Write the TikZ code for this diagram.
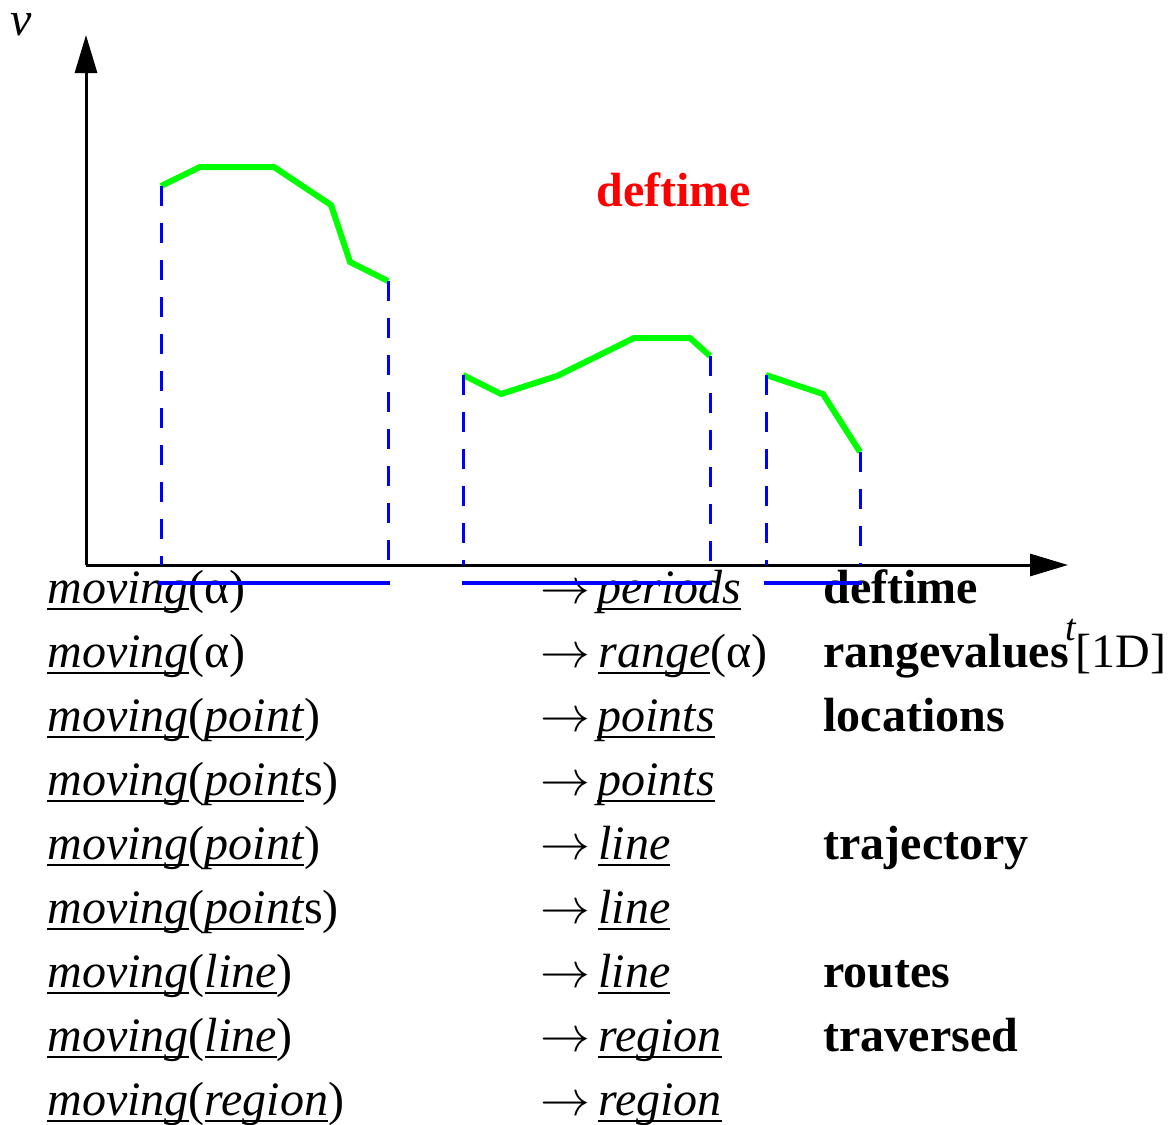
\documentclass[tikz,border=0pt]{standalone}
\usepackage{fontspec}
\setmainfont{Liberation Serif}
\usetikzlibrary{arrows.meta}
% underline at a fixed depth, running through descenders
\newcommand\undl[1]{\setbox0\hbox{#1}\rlap{\rule[-3.6pt]{\wd0}{1.1pt}}\box0}
\newcommand\mvg{\undl{\textit{moving}}}
\newcommand\ui[1]{\undl{\textit{#1}}}
\begin{document}
\begin{tikzpicture}[x=0.5pt,y=-0.5pt,
  txt/.style={anchor=base west,inner sep=0pt,font=\fontsize{24}{28}\selectfont},
  lbl/.style={txt,font=\fontsize{24}{28}\selectfont\bfseries},
  axis/.style={line width=1.5pt,-{Triangle[length=19pt,width=11pt]}},
  curve/.style={draw={rgb,255:red,0;green,255;blue,0},line width=3pt,line join=miter},
  drop/.style={draw={rgb,255:red,0;green,0;blue,255},line width=1.5pt,dash pattern=on 10pt off 8.5pt},
  span/.style={draw={rgb,255:red,0;green,0;blue,255},line width=2.4pt}]
\useasboundingbox (0,0) rectangle (1176,1124);

% axes
\coordinate (O) at (86,565);
\coordinate (ytop) at (86,35);
\coordinate (xend) at (1068,565);
\draw[axis] (O) -- (ytop);
\draw[axis] (O) -- (xend);
\node[txt,anchor=base,font=\fontsize{24}{28}\selectfont\itshape] (vlab) at (21,35) {v};

% velocity pieces
\coordinate (a0) at (161,186); \coordinate (a1) at (388,281);
\coordinate (b0) at (463,375); \coordinate (b1) at (710,356);
\coordinate (c0) at (766,375); \coordinate (c1) at (860,452);
\draw[curve] (a0) -- (200,167) -- (274,167) -- (331,205) -- (350,262) -- (a1);
\draw[curve] (b0) -- (501,394) -- (557,376) -- (634,338) -- (690,338) -- (b1);
\draw[curve] (c0) -- (823,394) -- (c1);

% projections onto the time axis
\foreach \p/\x in {a0/161,a1/388,b0/463,b1/710,c0/766,c1/860}
  \draw[drop] (\p) -- (\x,565);

\node[txt,font=\fontsize{24}{28}\selectfont\bfseries,text={rgb,255:red,255;green,0;blue,0}] (dt) at (596,206) {deftime};

% signature table
\node[txt] (l1) at (47,603)  {\mvg(α)};
\node[txt] (l2) at (47,667)  {\mvg(α)};
\node[txt] (l3) at (47,731)  {\mvg(\ui{point})};
\node[txt] (l4) at (47,795)  {\mvg(\ui{point}s)};
\node[txt] (l5) at (47,859)  {\mvg(\ui{point})};
\node[txt] (l6) at (47,923)  {\mvg(\ui{point}s)};
\node[txt] (l7) at (47,987)  {\mvg(\ui{line})};
\node[txt] (l8) at (47,1051) {\mvg(\ui{line})};
\node[txt] (l9) at (47,1115) {\mvg(\ui{region})};

\foreach \i/\y in {1/603,2/667,3/731,4/795,5/859,6/923,7/987,8/1051,9/1115}
  \node[txt] (arr\i) at (540,\y) {$\rightarrow$};

\node[txt] (r1) at (597,603)  {\ui{periods}};
\node[txt] (r2) at (598,667)  {\ui{range}(α)};
\node[txt] (r3) at (597,731)  {\ui{points}};
\node[txt] (r4) at (597,795)  {\ui{points}};
\node[txt] (r5) at (598,859)  {\ui{line}};
\node[txt] (r6) at (598,923)  {\ui{line}};
\node[txt] (r7) at (598,987)  {\ui{line}};
\node[txt] (r8) at (598,1051) {\ui{region}};
\node[txt] (r9) at (598,1115) {\ui{region}};

\node[lbl] (n1) at (823,603) {deftime};
\node[lbl] (n2) at (823,667) {rangevalues\kern-1.5pt\raisebox{13.5pt}{\fontsize{19}{19}\selectfont\mdseries\itshape t}\kern-0.3pt\mdseries[1D]};
\node[lbl] (n3) at (823,731) {locations};
\node[lbl] (n5) at (823,859) {trajectory};
\node[lbl] (n7) at (823,987) {routes};
\node[lbl] (n8) at (823,1051) {traversed};

% defined time intervals
\coordinate (s1a) at (158,583); \coordinate (s1b) at (390,583);
\coordinate (s2a) at (462,583); \coordinate (s2b) at (712,583);
\coordinate (s3a) at (764,583); \coordinate (s3b) at (862,583);
\draw[span] (s1a) -- (s1b);
\draw[span] (s2a) -- (s2b);
\draw[span] (s3a) -- (s3b);
\end{tikzpicture}
\end{document}
